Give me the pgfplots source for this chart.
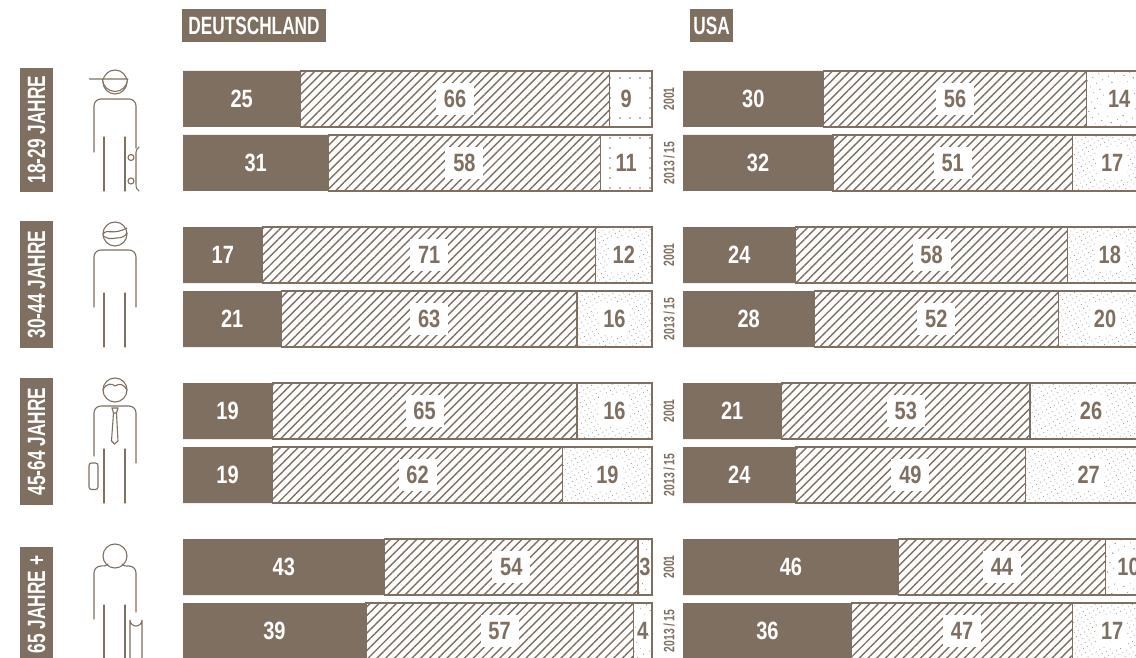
\documentclass[border=0pt]{standalone}
\usepackage{fontspec}
\setmainfont{Liberation Sans}[FakeStretch=0.69,BoldFont={Liberation Sans Bold}]
\newfontfamily\numf{Liberation Sans Bold}[FakeStretch=0.8]
\usepackage{pgfplots}
\pgfplotsset{compat=1.18}
\usepackage{pgfplotstable}
\usetikzlibrary{patterns.meta}
\definecolor{brn}{HTML}{7F6F60}
\pgfplotstableread{
y a b c d e
99 25 66 0 0 9
163 31 58 0 0 11
255 17 71 12 0 0
319 21 63 16 0 0
411 19 65 16 0 0
475 19 62 19 0 0
567 43 54 0 3 0
631 39 57 0 4 0
}\tblDE
\pgfplotstableread{
y a b c d e
99 30 56 0 14 0
163 32 51 17 0 0
255 24 58 18 0 0
319 28 52 20 0 0
411 21 53 26 0 0
475 24 49 27 0 0
567 46 44 0 10 0
631 36 47 17 0 0
}\tblUS
\pgfplotstableread{
y a xa b xb c xc
99 25 12.5 66 58 9 94.5
163 31 15.5 58 60 11 94.5
255 17 8.5 71 52.5 12 94
319 21 10.5 63 52.5 16 92
411 19 9.5 65 51.5 16 92
475 19 9.5 62 50 19 90.5
}\labDE
\pgfplotstableread{
y a xa b xb
567 43 21.5 54 70
631 39 19.5 57 67.5
}\labDEb
\pgfplotstableread{
y c xc
567 3 98.5
631 4 98
}\labDEc
\pgfplotstableread{
y a xa b xb c xc
99 30 15 56 58 14 93
163 32 16 51 57.5 17 91.5
255 24 12 58 53 18 91
319 28 14 52 54 20 90
411 21 10.5 53 47.5 26 87
475 24 12 49 48.5 27 86.5
567 46 23 44 68 10 95
631 36 18 47 59.5 17 91.5
}\labUS
\pgfplotsset{
  panel/.style={
    scale only axis, width=469pt, height=658pt,
    xmin=0, xmax=100, ymin=0, ymax=658, y dir=reverse,
    hide axis, clip=false, anchor=south west,
  },
  barpanel/.style={panel, xbar stacked, bar width=56pt, bar shift=0pt},
  lab/.style n args={3}{only marks, mark=none, point meta=explicit symbolic,
    nodes near coords,
    nodes near coords style={anchor=center, inner sep=0pt, outer sep=0pt,
      font=\fontsize{25}{25}\numf, text height=17.5pt, text depth=0pt,
      text=#1, fill=#2, minimum width=#3, minimum height=32pt}},
  shatch/.style={draw=brn, line width=1.2pt,
    pattern={Lines[angle=45,distance=6.2pt,line width=1.4pt]}, pattern color=brn},
  sdense/.style={draw=brn, line width=1.2pt,
    pattern={Dots[radius=.55pt,distance=4.6pt,angle=30]}, pattern color=brn!75},
  smed/.style={draw=brn, line width=1.2pt,
    pattern={Dots[radius=.6pt,distance=6.5pt,angle=30]}, pattern color=brn!85},
  ssparse/.style={draw=brn, line width=1.2pt,
    pattern={Dots[radius=.8pt,distance=10pt,angle=0]}, pattern color=brn},
}
\newcommand\bars[2]{%
  \begin{axis}[barpanel, at={(#1pt,0pt)}]
    \addplot[fill=brn, draw=none] table[x=a,y=y] {#2};
    \addplot[shatch]  table[x=b,y=y] {#2};
    \addplot[sdense]  table[x=c,y=y] {#2};
    \addplot[smed]    table[x=d,y=y] {#2};
    \addplot[ssparse] table[x=e,y=y] {#2};
  \end{axis}}
\begin{document}
\begin{tikzpicture}[x=1pt,y=1pt]
\path[use as bounding box] (0,0) rectangle (1136,658);
\clip (0,0) rectangle (1136,658);
\bars{183}{\tblDE}
\bars{683}{\tblUS}
\begin{axis}[panel, at={(183pt,0pt)}]
  \addplot[lab={white}{none}{1pt}] table[x=xa,y=y,meta=a] {\labDE};
  \addplot[lab={white}{none}{1pt}] table[x=xa,y=y,meta=a] {\labDEb};
  \addplot[lab={brn}{white}{38pt}] table[x=xb,y=y,meta=b] {\labDE};
  \addplot[lab={brn}{white}{38pt}] table[x=xb,y=y,meta=b] {\labDEb};
  \addplot[lab={brn}{white}{30pt}] table[x=xc,y=y,meta=c] {\labDE};
  \addplot[lab={brn}{white}{10pt}] table[x=xc,y=y,meta=c] {\labDEc};
\end{axis}
\begin{axis}[panel, at={(683pt,0pt)}]
  \addplot[lab={white}{none}{1pt}] table[x=xa,y=y,meta=a] {\labUS};
  \addplot[lab={brn}{white}{38pt}] table[x=xb,y=y,meta=b] {\labUS};
  \addplot[lab={brn}{white}{30pt}] table[x=xc,y=y,meta=c] {\labUS};
\end{axis}
\begin{scope}[x=1pt,y=-1pt,shift={(0pt,658pt)}]
  \tikzset{big/.style={text=white,font=\fontsize{25}{25}\selectfont\bfseries,inner sep=0pt},
           yr/.style={text=brn,font=\fontsize{15}{15}\selectfont\bfseries,rotate=90,inner sep=0pt}}
  % headers
  \fill[brn] (182,9) rectangle (326,42);
  \node[big] at (254,25.5) {DEUTSCHLAND};
  \fill[brn] (690,9) rectangle (733,42);
  \node[big] at (711.5,25.5) {USA};
  % age boxes
  \fill[brn] (20,68) rectangle (53,192);
  \node[big,rotate=90] at (36.5,129.5) {18-29 JAHRE};
  \fill[brn] (20,221) rectangle (53,348);
  \node[big,rotate=90] at (36.5,284.5) {30-44 JAHRE};
  \fill[brn] (20,378) rectangle (53,505);
  \node[big,rotate=90] at (36.5,441.5) {45-64 JAHRE};
  \fill[brn] (20,547) rectangle (53,670);
  \node[big,rotate=90] at (36.5,604.5) {65 JAHRE +};
  % year labels
  \foreach \ya/\yb in {99/163,255/319,411/475,567/631}{
    \node[yr] at (669,\ya) {2001};
    \node[yr] at (669,\yb) {2013\,/\,15};
  }
  % figures
  \begin{scope}[draw=brn,line width=1.1pt,line cap=round]
    % 18-29
    \draw (115,82) circle (12);
    \draw[fill=white] (102.5,79) arc[start angle=180,end angle=0,radius=12.5] (128,79) -- (89.5,79);
    \draw (94,152) -- (94,106) arc[start angle=180,end angle=270,radius=7] -- (129,99) arc[start angle=270,end angle=360,radius=7] -- (136,148);
    \draw (104,137) -- (104,191) (125,137) -- (125,191);
    \draw (139,147) .. controls (136,150) and (136,151) .. (136,155) -- (136,184) .. controls (136,188) and (137,190) .. (139,191);
    \draw (131,157.5) circle (3) (131,181) circle (3);
    % 30-44
    \draw (115,234) circle (12);
    \draw (103,234) .. controls (108,228) and (112,236) .. (127,228);
    \draw (103,236) .. controls (108,238) and (110,240) .. (113,238.5) .. controls (118,237) and (122,240) .. (127,233);
    \draw (94,307) -- (94,257) arc[start angle=180,end angle=270,radius=7] -- (129,250) arc[start angle=270,end angle=360,radius=7] -- (136,307);
    \draw (104,293) -- (104,347) (125,293) -- (125,347);
    % 45-64
    \draw (115,390) circle (12);
    \draw (103,390) .. controls (106,383) and (112,383) .. (115,386) .. controls (119,383) and (124,384) .. (127,390);
    \draw (94,456) -- (94,413) arc[start angle=180,end angle=270,radius=7] -- (129,406) arc[start angle=270,end angle=360,radius=7] -- (136,463);
    \draw (104,449) -- (104,503) (125,449) -- (125,503);
    \draw (112,408) -- (118,408) -- (116.5,413) -- (113.5,413) -- cycle;
    \draw (113.5,413) -- (111.5,441) -- (114.5,444) -- (118,441) -- (116.5,413);
    \draw[rounded corners=2.5] (89,463) rectangle (98,489.5);
    % 65+
    \draw (115,556) circle (12);
    \draw (94,619) -- (94,573) arc[start angle=180,end angle=270,radius=7] .. controls (104,566) and (107,566) .. (108,564);
    \draw (122,564) .. controls (123,566) and (125,566) .. (129,566) arc[start angle=270,end angle=360,radius=7] -- (136,612);
    \draw (104,605) -- (104,660) (125,605) -- (125,660);
    \draw (130,660) -- (130,620) arc[start angle=180,end angle=0,radius=6] -- (142,660);
  \end{scope}
\end{scope}
\end{tikzpicture}
\end{document}
